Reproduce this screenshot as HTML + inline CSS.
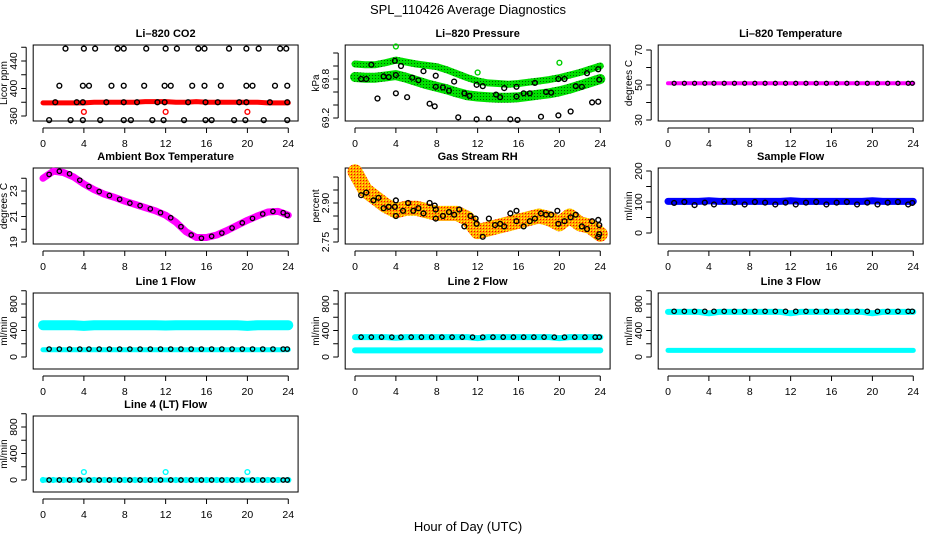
<!DOCTYPE html>
<html><head><meta charset="utf-8">
<style>
html,body{margin:0;padding:0;background:#fff;}
svg{display:block;font-family:"Liberation Sans",Arial,sans-serif;}
.t{font-size:11px;font-weight:bold;text-anchor:middle;}
.tk{font-size:10.5px;text-anchor:middle;}
</style></head>
<body>
<svg id="chart" width="936" height="540" viewBox="0 0 936 540">
<defs>
<pattern id="grnpat" width="3" height="3" patternUnits="userSpaceOnUse"><rect width="3" height="3" fill="#00e000"/><rect width="1" height="1" fill="#006000"/></pattern>
<pattern id="rhpat" width="3" height="3" patternUnits="userSpaceOnUse"><rect width="3" height="3" fill="#ffa500"/><rect width="1" height="1" fill="#ff0000"/><rect x="2" y="2" width="1" height="1" fill="#ffff00"/></pattern>
</defs>
<text x="468" y="14" font-size="13" text-anchor="middle">SPL_110426  Average Diagnostics</text>
<text x="468" y="531" font-size="13" text-anchor="middle">Hour of Day (UTC)</text>
</svg>
<script>
const hours = [0,1,2,3,4,5,6,7,8,9,10,11,12,13,14,15,16,17,18,19,20,21,22,23,24];
const xTickLabels = [0,4,8,12,16,20,24];
const blackHours = [0.6,1.6,2.6,3.6,4.5,5.5,6.5,7.5,8.5,9.5,10.5,11.5,12.5,13.5,14.5,15.5,16.5,17.5,18.5,19.5,20.5,21.5,22.5,23.5,23.9];

const co2Red = [379,379,379,379,379,380,380,380,380,380,381,381,381,380,380,381,380,380,380,380,380,380,379,379,379];
const co2RedOutX = [4,12,20];
const co2RedOutY = [366,366,366];
const co2BlackX = [2.2,4,5.1,7.3,7.9,10.1,12,13.1,15.2,15.8,18.2,19.9,21.1,23.2,23.8, 1.6,3.9,4.5,6.7,7.9,9.9,11.9,12.5,14.6,15.8,17.4,19.9,20.5,22.7,23.9, 1.2,3.3,3.9,6.2,7.9,9.2,11.2,11.9,14.2,15.9,17.1,19.2,19.9,22.2,23.9, 0.6,2.7,3.9,5.6,7.9,8.6,10.7,11.8,13.8,15.9,16.5,18.7,19.8,21.6,23.9];
const co2BlackY = [458,458,458,458,458,458,458,458,458,458,458,458,458,458,458, 404,404,404,404,404,404,404,404,404,404,404,404,404,404,404, 380,380,380,380,380,380,380,380,380,380,380,380,380,380,380, 354,354,354,354,354,354,354,354,354,354,354,354,354,354,354];

const presUpper = [70.03,70.02,70.02,70.05,70.09,70.06,70.03,70.01,69.99,69.94,69.88,69.82,69.77,69.74,69.73,69.72,69.73,69.75,69.77,69.79,69.82,69.86,69.9,69.95,70.0];
const presLower = [69.83,69.82,69.82,69.84,69.86,69.82,69.77,69.72,69.68,69.64,69.59,69.55,69.53,69.52,69.51,69.51,69.52,69.54,69.56,69.58,69.61,69.65,69.7,69.75,69.8];
const presBlackX = [0.6,1.1,1.6,2.2,2.8,3.3,3.9,4,4,4.5,5.1,5.6,6.2,6.7,7.3,7.9,7.9,7.8,8.6,9.2,9.7,10.1,10.7,11.2,11.9,11.9,12.5,13.1,13.8,14.2,14.6,15.2,15.8,15.8,15.9,16.5,17.1,17.6,18.2,18.7,19.2,19.9,19.9,20.5,21.1,21.6,22.2,22.7,23.2,23.8,23.9,23.8];
const presBlackY = [69.8,69.8,70.02,69.5,69.84,69.83,70.08,69.86,69.58,70.0,69.52,69.82,69.78,69.92,69.42,69.85,69.68,69.38,69.67,69.62,69.76,69.21,69.58,69.54,69.71,69.18,69.69,69.19,69.56,69.52,69.66,69.18,69.68,69.53,69.17,69.58,69.58,69.74,69.22,69.6,69.59,69.8,69.24,69.8,69.3,69.69,69.68,69.89,69.44,69.95,69.79,69.45];

const tempMagenta = [51,51,51,51,51,51,51,51,51,51,51,51,51,51,51,51,51,51,51,51,51,51,51,51,51];
const tempBlack = [51,51,51,51,51,51,51,51,51,51,51,51,51,51,51,51,51,51,51,51,51,51,51,51,51];

const ambMagenta = [24.0,24.55,24.45,24.1,23.55,23.1,22.75,22.5,22.2,21.95,21.7,21.45,21.1,20.55,19.8,19.35,19.35,19.55,19.9,20.3,20.7,21.05,21.35,21.4,21.1];
const ambBlack = [24.3,24.55,24.35,23.85,23.35,22.95,22.65,22.35,22.05,21.85,21.6,21.3,20.9,20.2,19.55,19.3,19.45,19.7,20.1,20.5,20.85,21.2,21.4,21.3,21.1];

const rhBand = [3.02,2.95,2.92,2.89,2.87,2.88,2.88,2.87,2.86,2.86,2.86,2.84,2.79,2.80,2.81,2.82,2.83,2.84,2.85,2.84,2.82,2.85,2.82,2.81,2.78];
const rhBlackX = [0.6,1.1,1.8,2.3,2.8,3.3,3.9,4,4,4.7,5.2,5.7,6.2,6.7,7.3,7.8,7.9,7.9,8.6,9.2,9.7,10.2,10.7,11.3,11.8,11.9,12.5,13.1,13.7,14.2,14.6,15.2,15.8,15.8,16.5,17.1,17.6,18.2,18.7,19.2,19.8,19.9,20.5,21.1,21.6,22.2,22.7,23.2,23.8,23.9,23.9,23.8];
const rhBlackY = [2.93,2.94,2.91,2.92,2.88,2.885,2.885,2.91,2.85,2.87,2.90,2.87,2.88,2.86,2.90,2.89,2.875,2.84,2.85,2.865,2.855,2.875,2.81,2.85,2.84,2.82,2.77,2.84,2.815,2.82,2.81,2.86,2.87,2.83,2.81,2.83,2.84,2.86,2.855,2.855,2.87,2.82,2.83,2.845,2.855,2.81,2.80,2.83,2.835,2.815,2.78,2.77];

const sampleBlue = [102,102,102,102,104,102,102,102,102,102,102,102,104,102,102,102,102,102,102,102,104,102,102,102,102];
const sampleBlack = [97,100,90,98,92,102,98,92,100,98,92,98,92,98,100,92,98,100,92,98,92,98,100,92,97];

const line1Cyan = [480,480,480,480,470,480,480,480,480,480,480,480,475,480,480,480,480,480,480,480,470,480,480,480,480];
const line1CyanLow = [110,110,110,110,110,110,110,110,110,110,110,110,110,110,110,110,110,110,110,110,110,110,110,110,110];
const line1Black = [120,120,120,120,120,120,120,120,120,120,120,120,120,120,120,120,120,120,120,120,120,120,120,120,120];

const line2CyanHigh = [300,300,300,300,290,300,300,300,300,300,300,300,285,300,300,300,300,300,300,300,285,300,300,300,300];
const line2CyanLow = [100,100,100,100,100,100,100,100,100,100,100,100,100,100,100,100,100,100,100,100,100,100,100,100,100];
const line2Black = [300,300,300,300,300,300,300,300,300,300,300,300,300,300,300,300,300,300,300,300,300,300,300,300,300];

const line3CyanHigh = [680,680,680,680,660,680,680,680,680,680,680,680,660,680,680,680,680,680,680,680,660,680,680,680,680];
const line3CyanLow = [100,100,100,100,100,100,100,100,100,100,100,100,100,100,100,100,100,100,100,100,100,100,100,100,100];
const line3Black = [690,690,690,690,690,690,690,690,690,690,690,690,690,690,690,690,690,690,690,690,690,690,690,690,690];

const line4Cyan = [0,0,0,0,120,0,0,0,0,0,0,0,120,0,0,0,0,0,0,0,120,0,0,0,0];
const line4Black = [0,0,0,0,0,0,0,0,0,0,0,0,0,0,0,0,0,0,0,0,0,0,0,0,0];

const NS = 'http://www.w3.org/2000/svg';
const svg = document.getElementById('chart');
const colX0 = [43,355,668];
const pxPerHour = 10.22;
const rowTop = [45,168,293,416];

function mk(tag, attrs, parent){
  const e = document.createElementNS(NS, tag);
  for (const k in attrs) e.setAttribute(k, attrs[k]);
  (parent||svg).appendChild(e);
  return e;
}

function panel(col,row,name,title,ylab,v1,p1,v2,p2,ticks,labels,dec){
  const g = mk('g',{});
  
  
  const x = h => colX0[col] + h*pxPerHour;
  const y = v => p1 + (v - v1)*(p2 - p1)/(v2 - v1);
  const left = x(-0.96), right = x(24.96), top = rowTop[row], bot = top + 76;
  const tt = mk('text',{x:(left+right)/2, y:top-8, class:'t'}, g);
  tt.textContent = title;
  
  
  const box = mk('rect',{x:left,y:top,width:right-left,height:bot-top,fill:'none',stroke:'#000','stroke-width':1}, g);
  
  
  const xa = mk('g',{}, g);
  
  
  mk('line',{x1:x(0),x2:x(24),y1:bot+7,y2:bot+7,stroke:'#000'}, xa);
  xTickLabels.forEach(t=>{
    mk('line',{x1:x(t),x2:x(t),y1:bot+7,y2:bot+12,stroke:'#000'}, xa);
    const l = mk('text',{x:x(t),y:bot+26,class:'tk'}, xa);
    l.textContent = t;
  });
  const ya = mk('g',{}, g);
  
  
  const ax = left - 7;
  mk('line',{x1:ax,x2:ax,y1:y(ticks[0]),y2:y(ticks[ticks.length-1]),stroke:'#000'}, ya);
  ticks.forEach(t=>{
    mk('line',{x1:ax-5,x2:ax,y1:y(t),y2:y(t),stroke:'#000'}, ya);
  });
  labels.forEach(t=>{
    const l = mk('text',{x:0,y:0,class:'tk',transform:`translate(${ax-9},${y(t)}) rotate(-90)`}, ya);
    l.textContent = t.toFixed(dec||0);
  });
  const yl = mk('text',{x:0,y:0,'font-size':10,'text-anchor':'middle',transform:`translate(${left-26},${(top+bot)/2}) rotate(-90)`}, g);
  yl.textContent = ylab;
  
  
  const clip = mk('g',{}, g);
  return {g:clip,x,y};
}

function band(p, xs, vs, color, width, name){
  const pts = xs.map((h,i)=>p.x(h).toFixed(1)+','+p.y(vs[i]).toFixed(1)).join(' ');
  const pl = mk('polyline',{points:pts,fill:'none',stroke:color,'stroke-width':width,'stroke-linejoin':'round','stroke-linecap':'round'}, p.g);
  
  
}
function circles(p, xs, vs, color, name, r, sw){
  const g = mk('g',{}, p.g);
  
  
  xs.forEach((h,i)=>{
    const c = mk('circle',{cx:p.x(h),cy:p.y(vs[i]),r:r||2.4,fill:'none',stroke:color,'stroke-width':sw||1.4}, g);
    
    
  });
}

let p = panel(0,0,'co2','Li\u2013820 CO2','Licor ppm',360,116,440,61,[360,380,400,420,440,460],[360,400,440]);
band(p, hours, co2Red, '#ff0000', 5, 'co2-red-series');
circles(p, co2RedOutX, co2RedOutY, '#ff0000', 'co2-red-outliers');
circles(p, co2BlackX, co2BlackY, '#000', 'co2-black-series');

p = panel(1,0,'pressure','Li\u2013820 Pressure','kPa',69.2,118,69.8,79,[69.2,69.4,69.6,69.8,70.0,70.2],[69.2,69.8],1);
band(p, hours, presUpper, 'url(#grnpat)', 7, 'pressure-green-upper');
band(p, hours, presLower, 'url(#grnpat)', 10, 'pressure-green-lower');
circles(p, [4,12,20], [70.3,69.9,70.05], '#00d000', 'pressure-green-outliers');
circles(p, presBlackX, presBlackY, '#000', 'pressure-black-series');

p = panel(2,0,'li820-temperature','Li\u2013820 Temperature','degrees C',30,120,70,50,[30,40,50,60,70],[30,50,70]);
band(p, hours, tempMagenta, '#ff00ff', 4, 'temperature-magenta-series');
circles(p, blackHours, tempBlack, '#000', 'temperature-black-series', 2, 1.2);

p = panel(0,1,'ambient','Ambient Box Temperature','degrees C',19,242,23,191,[19,20,21,22,23,24],[19,21,23]);
band(p, hours, ambMagenta, '#ff00ff', 7, 'ambient-magenta-series');
circles(p, blackHours, ambBlack, '#000', 'ambient-black-series', 2.2, 1.3);

p = panel(1,1,'rh','Gas Stream RH','percent',2.75,242,2.90,203,[2.75,2.80,2.85,2.90,2.95,3.00],[2.75,2.90],2);
band(p, hours, rhBand, 'url(#rhpat)', 15, 'rh-orange-series');
circles(p, rhBlackX, rhBlackY, '#000', 'rh-black-series');

p = panel(2,1,'sample-flow','Sample Flow','ml/min',0,233,200,171,[0,50,100,150,200],[0,100,200]);
band(p, hours, sampleBlue, '#0000ff', 7, 'sample-blue-series');
circles(p, blackHours, sampleBlack, '#000', 'sample-black-series');

const fT = [0,200,400,600,800,1000], fL = [0,400,800];
p = panel(0,2,'line1','Line 1 Flow','ml/min',0,357,800,304,fT,fL);
band(p, hours, line1Cyan, '#00ffff', 10, 'line1-cyan-high');
band(p, hours, line1CyanLow, '#00ffff', 5, 'line1-cyan-low');
circles(p, blackHours, line1Black, '#000', 'line1-black-series', 2.2, 1.3);

p = panel(1,2,'line2','Line 2 Flow','ml/min',0,357,800,304,fT,fL);
band(p, hours, line2CyanHigh, '#00ffff', 6, 'line2-cyan-high');
band(p, hours, line2CyanLow, '#00ffff', 6, 'line2-cyan-low');
circles(p, blackHours, line2Black, '#000', 'line2-black-series', 2.2, 1.3);

p = panel(2,2,'line3','Line 3 Flow','ml/min',0,357,800,304,fT,fL);
band(p, hours, line3CyanHigh, '#00ffff', 6, 'line3-cyan-high');
band(p, hours, line3CyanLow, '#00ffff', 5, 'line3-cyan-low');
circles(p, blackHours, line3Black, '#000', 'line3-black-series', 2.2, 1.3);

p = panel(0,3,'line4','Line 4 (LT) Flow','ml/min',0,480,800,427,fT,fL);
band(p, hours, line4Black, '#00ffff', 5, 'line4-cyan-base');
circles(p, hours, line4Cyan, '#00ffff', 'line4-cyan-series');
circles(p, blackHours, line4Black, '#000', 'line4-black-series', 2.2, 1.3);
</script>
</body></html>
